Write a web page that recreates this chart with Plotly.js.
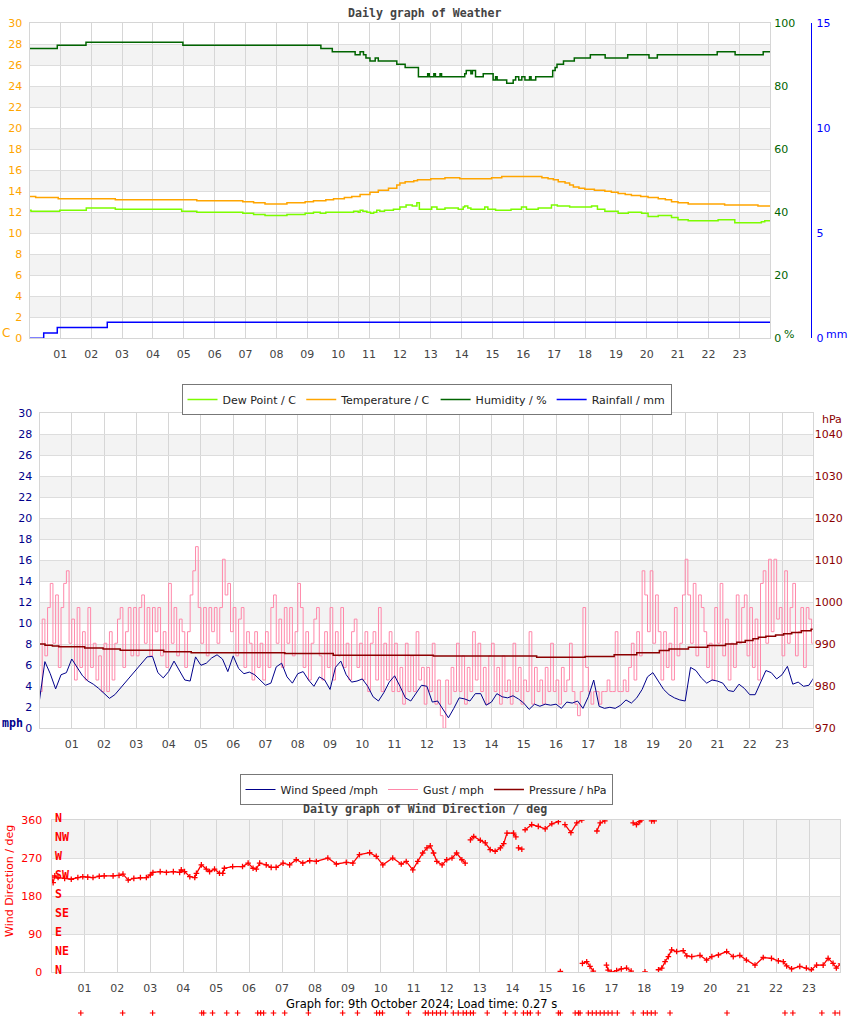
<!DOCTYPE html>
<html><head><meta charset="utf-8">
<script src="https://cdn.plot.ly/plotly-3.0.1.min.js"></script>
<style>body{margin:0;padding:0;background:#fff}#chart{width:850px;height:1017px}</style>
</head><body><div id="chart"></div>
<script>
// ---------------- DATA ----------------
const hourTicks = [1,2,3,4,5,6,7,8,9,10,11,12,13,14,15,16,17,18,19,20,21,22,23];
const hourLabels = ['01','02','03','04','05','06','07','08','09','10','11','12','13','14','15','16','17','18','19','20','21','22','23'];

// Dew point (C) - change points (hour, value)
const dewHours = [0,0.05,0.98,1.84,2.78,4.93,5.42,6.91,7.26,7.63,8.34,8.93,9.2,9.42,9.6,10.5,10.65,10.71,10.8,10.93,11.05,11.15,11.25,11.35,11.5,11.79,12.0,12.2,12.4,12.55,12.63,13.03,13.2,13.46,13.89,14.05,14.1,14.2,14.3,14.75,14.85,15.1,15.6,15.94,16.1,16.48,16.91,17.1,17.5,18.21,18.4,18.64,19.07,19.4,19.83,20.04,20.37,20.8,21.01,21.34,22.31,22.85,23.71,23.82,24];
const dewPoint = [12.2,12.1,12.2,12.4,12.3,12.1,12.0,11.9,11.8,11.7,11.8,11.9,12.0,11.9,12.0,12.1,12.0,12.2,12.1,12.0,11.9,12.0,12.2,12.1,12.2,12.3,12.5,12.7,12.6,12.9,12.3,12.5,12.3,12.4,12.3,12.5,12.6,12.4,12.3,12.5,12.3,12.2,12.3,12.5,12.3,12.4,12.7,12.6,12.5,12.6,12.3,12.1,11.9,12.0,11.9,11.6,11.7,11.5,11.3,11.2,11.3,11.0,11.1,11.2,11.2];

// Temperature (C)
const tempHours = [0,0.2,0.93,2.78,5.42,6.91,7.26,7.63,8.34,8.93,9.2,9.6,9.85,10.2,10.44,10.71,11.03,11.3,11.63,11.9,12.0,12.17,12.45,12.57,13.0,13.46,13.94,14.97,15.3,16.6,16.8,16.97,17.13,17.35,17.5,17.62,17.8,17.99,18.3,18.64,18.85,19.07,19.3,19.5,19.8,20.04,20.37,20.6,20.8,21.01,21.34,22.52,23.6,24];
const temperature = [13.5,13.4,13.3,13.2,13.1,13.0,12.9,12.8,12.9,13.0,13.1,13.2,13.3,13.4,13.5,13.7,13.9,14.1,14.3,14.6,14.8,14.9,15.0,15.1,15.2,15.3,15.2,15.3,15.4,15.3,15.2,15.1,14.9,14.8,14.6,14.4,14.3,14.2,14.1,14.0,13.9,13.8,13.7,13.6,13.5,13.4,13.3,13.2,13.0,12.9,12.8,12.7,12.6,12.6];

// Humidity (%)
const humHours = [0,0.9,1.83,4.97,9.44,9.81,10.55,10.71,10.82,10.9,11.03,11.2,11.3,11.9,12.17,12.6,12.9,12.95,13.1,13.15,13.3,13.35,14.1,14.15,14.3,14.35,14.45,14.7,15.02,15.1,15.15,15.46,15.67,15.75,15.85,15.95,16.05,16.2,16.25,16.4,16.95,17.03,17.09,17.3,17.65,18.17,18.65,19.38,20.07,20.34,22.28,22.86,23.77,24];
const humidity = [92,93,94,93,92,91,90,91,90,89,88,89,88,87,86,83,84,83,84,83,84,83,84,85,84,85,83,84,82,83,82,81,82,83,82,83,82,83,82,83,85,86,87,88,89,90,89,90,89,90,91,90,91,91];

// Rainfall (mm)
const rainHours = [0,0.46,0.9,2.52,24];
const rainfall = [0,0.25,0.51,0.76,0.76];

// Wind speed (mph), one value every 10 minutes from 00:00
const windSpeed = [2.7,6.35,5.2,3.75,5.1,5.3,6.6,5.8,5.0,4.5,
4.2,3.8,3.3,2.85,3.2,3.8,4.4,5.0,5.6,6.2,
6.8,6.85,5.3,4.8,5.4,6.4,5.5,4.6,4.5,6.8,
6.0,6.2,6.7,7.0,6.6,5.4,6.9,5.7,5.2,5.35,
5.1,4.55,4.1,4.3,5.85,6.2,4.9,4.3,5.2,5.4,
4.6,4.0,4.9,4.6,3.7,5.8,6.4,5.1,4.4,4.5,
4.7,4.0,3.0,2.6,3.4,4.4,5.0,4.0,2.9,2.6,
3.3,4.1,4.0,2.5,2.6,1.8,1.0,1.9,2.9,2.8,
2.6,3.3,3.3,2.2,2.5,3.3,3.0,2.9,3.1,2.8,
2.4,1.8,2.3,2.1,2.3,2.2,2.3,1.9,2.5,2.4,
2.6,1.9,3.0,4.6,2.1,1.9,2.0,1.9,2.2,2.7,
2.4,2.9,3.7,4.9,5.3,4.5,3.7,3.2,2.9,2.7,
2.6,5.8,5.5,4.8,4.3,4.6,4.5,4.3,3.6,3.5,
4.2,3.8,3.2,3.2,4.3,5.5,5.3,4.7,5.1,5.9,
4.2,4.4,4.0,4.1,4.9];

// Gust (mph), one value every 5 minutes from 00:00
const gust = [
3.5,10.4,6.9,11.5,13.8,8.1,12.7,5.8,11.5,13.8,15.0,8.1,
10.4,4.6,11.5,5.8,9.2,4.6,11.5,5.8,8.1,4.6,6.9,3.5,
8.1,3.5,9.2,4.6,8.1,10.4,11.5,5.8,9.2,11.5,6.9,11.5,
6.9,11.5,12.7,8.1,11.5,6.9,11.5,9.2,11.5,6.9,9.2,5.8,
13.8,8.1,11.5,6.9,10.4,9.2,5.8,9.2,12.7,15.0,17.3,11.5,
8.1,11.5,6.9,11.5,9.2,11.5,8.1,11.5,16.1,12.7,13.8,9.2,
11.5,6.9,10.4,11.5,5.8,9.2,8.1,4.6,9.2,5.8,8.1,4.6,
9.2,5.8,11.5,12.7,8.1,10.4,5.8,11.5,8.1,11.5,6.9,9.2,
13.8,11.5,5.8,9.2,4.6,8.1,10.4,11.5,6.9,4.6,9.2,5.8,
11.5,4.6,9.2,6.9,11.5,5.8,8.1,4.6,9.2,10.4,5.8,8.1,
4.6,9.2,3.5,8.1,9.2,4.6,11.5,3.5,8.1,4.6,9.2,3.5,
8.1,3.5,5.8,2.3,8.1,3.5,6.9,3.5,9.2,4.6,5.8,2.3,
5.8,3.5,8.1,2.3,4.6,1.2,0,4.6,2.3,5.8,3.5,8.1,
3.5,6.9,2.3,5.8,3.5,9.2,4.6,8.1,3.5,5.8,2.3,6.9,
8.1,3.5,5.8,2.3,6.9,3.5,4.6,2.3,8.1,3.5,5.8,2.3,
4.6,3.5,9.2,2.3,5.8,3.5,4.6,2.3,5.8,3.5,8.1,3.5,
4.6,2.3,5.8,3.5,4.6,8.1,3.5,2.3,1.2,3.5,11.5,5.8,
3.5,2.3,3.5,3.5,2.3,3.5,3.5,4.6,3.5,3.5,9.2,3.5,
3.5,4.6,3.5,5.8,8.1,4.6,9.2,6.9,15.0,12.7,9.2,15.0,
8.1,12.7,9.2,4.6,9.2,5.8,8.1,4.6,11.5,6.9,8.1,12.7,
16.1,12.7,8.1,13.8,6.9,12.7,11.5,9.2,5.8,8.1,4.6,11.5,
8.1,13.8,6.9,10.4,4.6,8.1,5.8,12.7,8.1,11.5,12.7,6.9,
11.5,5.8,10.4,4.6,13.8,15.0,8.1,16.1,9.2,16.1,10.4,11.5,
6.9,15.0,8.1,11.5,13.8,6.9,9.2,11.5,5.8,11.5,10.4,8.1,
9.2];

// Pressure (hPa) - change points
const pressHours = [0,0.17,0.4,0.6,1.4,1.97,2.5,3.85,4.7,7.6,9.1,12.2,15.4,16.9,17.8,18.5,19.2,19.5,20.1,20.7,21.25,21.6,21.86,22.1,22.27,22.5,22.8,23.05,23.3,23.6,23.9,24];
const pressure = [990.1,989.8,989.6,989.4,989.1,988.9,988.6,988.2,988.0,987.8,987.4,987.2,986.9,987.1,987.5,988.0,988.5,988.9,989.3,989.7,990.1,990.5,990.9,991.3,991.7,991.9,992.2,992.5,992.8,993.2,993.6,993.6];

// Wind direction (deg); null = break in the trace
const dirHours = [0.0,0.05,0.1,0.2,0.4,0.6,0.8,0.95,1.1,1.26,1.45,1.6,1.87,2.05,2.17,2.33,2.5,2.7,2.88,3.0,3.08,3.3,3.49,3.7,3.89,3.94,4.04,4.2,4.35,4.4,4.55,4.7,4.8,4.95,5.1,5.2,5.25,5.5,5.8,5.97,6.12,6.22,6.32,6.52,6.67,6.82,7.03,7.23,7.43,7.63,7.84,8.04,8.39,8.65,8.95,9.15,9.35,9.66,9.86,10.06,10.36,10.62,10.77,10.97,11.12,11.27,11.4,11.5,11.6,11.7,11.86,12.0,12.16,12.3,12.46,12.56,12.64,
12.72,12.82,13.02,13.17,13.32,13.47,13.63,13.73,13.83,14.03,14.1,14.14,14.18,14.28,14.33,
14.38,14.58,14.78,14.99,15.19,15.39,15.42,15.45,15.48,15.59,15.77,15.95,16.1,16.11,
16.12,16.25,16.35,16.45,16.5,16.56,16.66,16.8,16.82,16.85,16.9,17.0,17.16,17.3,17.46,17.6,17.63,
17.66,17.76,17.86,17.9,17.95,18.02,18.1,18.22,18.3,18.36,
18.43,18.53,18.63,18.73,18.83,18.98,19.18,19.29,19.44,19.69,19.89,20.05,20.25,20.5,20.7,20.9,21.1,21.36,21.61,21.86,22.07,22.22,22.32,22.47,22.72,22.92,23.07,23.23,23.43,23.58,23.73,23.83,23.96];
const windDir = [225,212,228,224,222,220,224,226,225,224,227,228,228,229,232,218,222,224,224,230,236,238,236,238,236,242,238,226,224,234,254,244,238,244,234,234,246,250,250,258,246,244,258,254,248,248,258,254,266,258,264,262,270,256,260,258,278,283,274,254,270,256,262,242,262,282,294,299,282,262,254,266,270,282,266,258,null,
313,321,312,306,290,286,294,304,329,329,320,null,294,291,null,
337,349,345,339,351,356,null,2,null,349,330,353,360,null,
21,25,14,3,null,334,353,358,null,17,5,0,4,8,10,3,null,
353,349,356,360,null,1,null,358,358,null,
6,10,25,37,53,49,51,39,37,40,29,37,41,49,37,40,29,17,35,33,27,25,15,8,14,10,6,17,17,33,21,10,20];

// Stray wind-direction readings drawn in a strip below the chart
const strayHours = [0.89,2.16,3.07,4.56,4.62,4.89,5.32,5.65,6.26,6.35,6.44,6.74,7.08,7.8,8.84,9.29,9.87,9.96,10.05,10.84,11.35,11.44,11.57,11.69,11.81,11.96,12.2,12.35,12.5,12.6,12.72,12.81,13.23,13.78,14.08,14.33,14.45,14.54,14.78,15.39,15.45,15.9,16.0,16.05,16.3,16.42,16.54,16.66,16.78,16.9,17.02,17.18,17.66,17.97,18.09,18.21,18.33,18.78,20.51,22.27,22.51,23.39,23.79,23.94];
const strayValue = -97;

const compassValues = [0,45,90,135,180,225,270,315,360];
const compassLabels = ['N','NE','E','SE','S','SW','W','NW','N'];

// ---------------- LAYOUT HELPERS ----------------
const W = 850, H = 1017;
const px = v => v / W;
const py = v => 1 - v / H;
const mono = {family: 'DejaVu Sans Mono', size: 11.6, weight: 'bold', color: '#444'};
const grid = '#d6d6d6';
const band = '#f3f3f3';

const windTimes = windSpeed.map((_, i) => i / 6);
const gustTimes = gust.map((_, i) => i / 12);
const strayY = strayHours.map(() => strayValue);

const traces = [
  {x: dewHours, y: dewPoint, name: 'Dew Point / C', type: 'scatter', mode: 'lines', line: {color: '#7cfc00', width: 1.5, shape: 'hv'}, xaxis: 'x', yaxis: 'y', legend: 'legend'},
  {x: tempHours, y: temperature, name: 'Temperature / C', type: 'scatter', mode: 'lines', line: {color: '#ffa500', width: 1.5, shape: 'hv'}, xaxis: 'x', yaxis: 'y', legend: 'legend'},
  {x: humHours, y: humidity, name: 'Humidity / %', type: 'scatter', mode: 'lines', line: {color: '#006400', width: 1.5, shape: 'hv'}, xaxis: 'x', yaxis: 'y2', legend: 'legend'},
  {x: rainHours, y: rainfall, name: 'Rainfall / mm', type: 'scatter', mode: 'lines', line: {color: '#0000ff', width: 1.5, shape: 'hv'}, xaxis: 'x', yaxis: 'y3', legend: 'legend'},

  {x: gustTimes, y: gust, name: 'Gust / mph', type: 'scatter', mode: 'lines', line: {color: '#ff88aa', width: 1, shape: 'hv'}, xaxis: 'x2', yaxis: 'y4', legend: 'legend2', legendrank: 2},
  {x: windTimes, y: windSpeed, name: 'Wind Speed /mph', type: 'scatter', mode: 'lines', line: {color: '#00008b', width: 1}, xaxis: 'x2', yaxis: 'y4', legend: 'legend2', legendrank: 1},
  {x: pressHours, y: pressure, name: 'Pressure / hPa', type: 'scatter', mode: 'lines', line: {color: '#8b0000', width: 1.5, shape: 'hv'}, xaxis: 'x2', yaxis: 'y5', legend: 'legend2', legendrank: 3},

  {x: dirHours, y: windDir, name: 'Wind Direction', type: 'scatter', mode: 'lines+markers', connectgaps: false,
   line: {color: '#ff0000', width: 1.3}, marker: {symbol: 'cross-thin-open', size: 4, color: '#ff0000', line: {color: '#ff0000', width: 1.3}},
   xaxis: 'x3', yaxis: 'y6', showlegend: false},
  {x: strayHours, y: strayY, name: 'Stray', type: 'scatter', mode: 'markers',
   marker: {symbol: 'cross-thin-open', size: 4, color: '#ff0000', line: {color: '#ff0000', width: 1.2}},
   xaxis: 'x4', yaxis: 'y7', showlegend: false}
];

function bands(xref, yref, from, to, step, width) {
  const s = [];
  for (let v = from; v < to; v += step) {
    s.push({type: 'rect', xref: xref, yref: yref, x0: 0, x1: 1, y0: v, y1: v + width,
      fillcolor: band, line: {width: 0}, layer: 'below'});
  }
  return s;
}
const shapes = []
  .concat(bands('x domain', 'y', 2, 30, 4, 2))
  .concat(bands('x2 domain', 'y4', 2, 30, 4, 2))
  .concat(bands('x3 domain', 'y6', 90, 360, 180, 90));

const xCommon = {
  range: [0, 24], tickmode: 'array', tickvals: hourTicks, ticktext: hourLabels,
  showgrid: true, gridcolor: grid, gridwidth: 1, zeroline: false,
  showline: true, linecolor: grid, mirror: true, ticks: '',
  tickfont: {family: 'DejaVu Sans', size: 11, color: '#444'}, ticklabelstandoff: 5, fixedrange: true
};
const yGrid = {showgrid: true, gridcolor: '#dddddd', zeroline: false, showline: true, linecolor: grid, mirror: true, ticks: '', fixedrange: true};

const note = (text, x, y, font, extra) => Object.assign({text: text, x: px(x), y: py(y), xref: 'paper', yref: 'paper',
  xanchor: 'center', yanchor: 'middle', showarrow: false, font: font}, extra || {});

const compassNotes = compassValues.map((v, i) => ({
  text: compassLabels[i], x: 0, y: v, xref: 'x3 domain', yref: 'y6', xanchor: 'left', yanchor: 'middle',
  xshift: 1, yshift: 2, showarrow: false,
  font: {family: 'DejaVu Sans Mono', size: 11.6, weight: 'bold', color: '#ff0000'}
}));

const layout = {
  width: W, height: H, autosize: false,
  margin: {l: 0, r: 0, t: 0, b: 0, pad: 0},
  paper_bgcolor: '#ffffff', plot_bgcolor: '#ffffff',
  font: {family: 'DejaVu Sans', size: 11, color: '#333'},
  showlegend: true,
  xaxis: Object.assign({}, xCommon, {domain: [px(29.5), px(770.3)], anchor: 'y'}),
  xaxis2: Object.assign({}, xCommon, {domain: [px(39.5), px(812.7)], anchor: 'y4', range: [0, 23.95]}),
  xaxis3: Object.assign({}, xCommon, {domain: [px(51.5), px(840.3)], anchor: 'y6', range: [0, 23.95]}),
  xaxis4: {domain: [px(51.5), px(840.3)], anchor: 'y7', range: [0, 23.95], visible: false, fixedrange: true},

  yaxis: Object.assign({}, yGrid, {domain: [py(338.3), py(23.3)], anchor: 'x', range: [0, 30], dtick: 2, tick0: 0,
    tickfont: {family: 'DejaVu Sans', size: 11, color: '#ffa500'}, ticklabelstandoff: 4}),
  yaxis2: {overlaying: 'y', side: 'right', anchor: 'x', range: [0, 100], dtick: 20, tick0: 0, showgrid: false, zeroline: false,
    ticks: '', tickfont: {family: 'DejaVu Sans', size: 11, color: '#006400'}, ticklabelstandoff: 3, fixedrange: true},
  yaxis3: {overlaying: 'y', side: 'right', anchor: 'free', position: px(810.7), range: [0, 15], dtick: 5, tick0: 0,
    showgrid: false, zeroline: false, showline: true, linecolor: '#0000ff', linewidth: 1.5, ticks: '',
    tickfont: {family: 'DejaVu Sans', size: 11, color: '#0000ff'}, ticklabelstandoff: 2, fixedrange: true},

  yaxis4: Object.assign({}, yGrid, {domain: [py(728.3), py(413.3)], anchor: 'x2', range: [0, 30], dtick: 2, tick0: 0,
    tickfont: {family: 'DejaVu Sans', size: 11, color: '#00008b'}, ticklabelstandoff: 4}),
  yaxis5: {overlaying: 'y4', side: 'right', anchor: 'x2', range: [970, 1045], dtick: 10, tick0: 970, showgrid: false, zeroline: false,
    ticks: '', tickfont: {family: 'DejaVu Sans', size: 11, color: '#8b0000'}, ticklabelstandoff: 1, fixedrange: true},

  yaxis6: Object.assign({}, yGrid, {domain: [py(972.3), py(820)], anchor: 'x3', range: [0, 360], dtick: 90, tick0: 0,
    tickfont: {family: 'DejaVu Sans', size: 11, color: '#ff0000'}, ticklabelstandoff: 6}),
  // strip below the wind-direction chart where the stray readings sit
  yaxis7: {domain: [py(1016.5), py(1009.5)], anchor: 'x4', range: [-100.5, -93.5], visible: false, fixedrange: true},

  legend: {orientation: 'h', x: px(426.5), xanchor: 'center', y: py(384), yanchor: 'top', bgcolor: '#ffffff',
    bordercolor: '#777777', borderwidth: 1, font: {family: 'DejaVu Sans', size: 11, color: '#222'}, itemwidth: 30, traceorder: 'normal'},
  legend2: {orientation: 'h', x: px(426), xanchor: 'center', y: py(774), yanchor: 'top', bgcolor: '#ffffff',
    bordercolor: '#777777', borderwidth: 1, font: {family: 'DejaVu Sans', size: 11, color: '#222'}, itemwidth: 30, traceorder: 'normal'},

  shapes: shapes,
  annotations: [
    note('Daily graph of Weather', 425, 13, mono),
    note('Daily graph of Wind Direction / deg', 425, 809, mono),
    note('C', 6, 333, {family: 'DejaVu Sans', size: 12, color: '#ffa500'}),
    note('%', 789, 334, {family: 'DejaVu Sans', size: 11, color: '#006400'}),
    note('mm', 836, 334, {family: 'DejaVu Sans', size: 11, color: '#0000ff'}),
    note('mph', 12, 723, {family: 'DejaVu Sans Mono', size: 11.6, weight: 'bold', color: '#00008b'}),
    note('hPa', 832, 419, {family: 'DejaVu Sans', size: 11, color: '#8b0000'}),
    note('Wind Direction / deg', 9, 881, {family: 'DejaVu Sans', size: 11, color: '#ff0000'}, {textangle: -90}),
    note('Graph for: 9th October 2024; Load time: 0.27 s', 421, 1004, {family: 'DejaVu Sans', size: 11.5, color: '#000'})
  ].concat(compassNotes)
};

Plotly.newPlot('chart', traces, layout, {staticPlot: true, displayModeBar: false});
</script>
</body></html>
